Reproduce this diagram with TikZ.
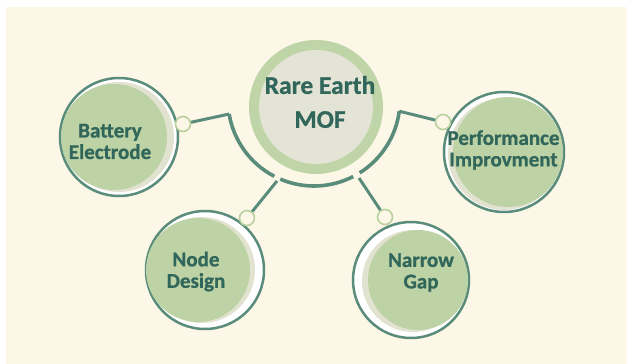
\documentclass[tikz,border=0pt]{standalone}
\usepackage{fontspec}
\setmainfont{Carlito}[BoldFeatures={FakeBold=0.8}]
\definecolor{bgcol}{HTML}{FDF7E7}
\definecolor{teal}{HTML}{5A8C7B}
\definecolor{txt}{HTML}{31665A}
\definecolor{leaf}{HTML}{BDD2A5}
\definecolor{mist}{HTML}{E2E2D0}
\definecolor{ringg}{HTML}{BFD5A8}
\definecolor{core}{HTML}{E4E4D6}
\definecolor{knob}{HTML}{B7D09E}
\tikzset{
  outerring/.style={circle, draw=teal, line width=2.5pt, fill=white, inner sep=0pt},
  knobc/.style={circle, draw=knob, line width=1.6pt, fill=bgcol, minimum size=15pt, inner sep=0pt},
  link/.style={draw=teal, line width=3pt},
  arcline/.style={draw=teal, line width=3.6pt},
  smalltxt/.style={text=txt, font=\bfseries\fontsize{21}{21.5}\selectfont, align=center, inner sep=0pt},
  bigtxt/.style={text=txt, font=\bfseries\fontsize{25.5}{34}\selectfont, align=center, inner sep=0pt}
}
\begin{document}
\begin{tikzpicture}[x=1pt,y=-1pt]
\useasboundingbox (0,0) rectangle (627,364);
\fill[white] (0,0) rectangle (627,364);
\fill[bgcol] (6,7) rectangle (627,364);

% centre
\node[circle, fill=ringg, minimum size=134pt, inner sep=0pt] (cring) at (316,107) {};
\fill[core] (cring.center) circle[radius=57];
\node[bigtxt] (ctext) at (320,102) {Rare Earth\\MOF};

% segmented arc around centre
\coordinate (arcC) at (314,100);
\draw[arcline] (arcC) ++(170.6:86) coordinate (aL) arc[start angle=170.6, end angle=117.5, radius=86];
\draw[arcline] (arcC) ++(113.1:86) arc[start angle=113.1, end angle=62.9, radius=86];
\draw[arcline] (arcC) ++(57.9:86) arc[start angle=57.9, end angle=7.5, radius=86] coordinate (aR);
\coordinate (gL) at (277,181);
\coordinate (gR) at (359,178);

% Battery Electrode
\node[outerring, minimum size=118pt] (battring) at (119,137) {};
\fill[mist] (119,137) circle[radius=55];
\fill[leaf] (114,137) circle[radius=53];
\node[smalltxt] (batttext) at (110,141.5) {Battery\\Electrode};

% Performance Improvment
\node[outerring, minimum size=120pt] (perfring) at (504,152) {};
\fill[mist] (504,154) circle[radius=56];
\fill[leaf] (508,152) circle[radius=55];
\node[smalltxt] (perftext) at (503.5,150) {Performance\\Improvment};

% Node Design
\node[outerring, minimum size=118pt] (nodering) at (205,270) {};
\fill[mist] (202,270) circle[radius=53];
\fill[leaf] (198,270) circle[radius=52];
\node[smalltxt] (nodetext) at (196,271.5) {Node\\Design};

% Narrow Gap
\node[outerring, minimum size=116pt] (narring) at (411,280) {};
\fill[mist] (413,281) circle[radius=51];
\fill[leaf] (418,280) circle[radius=50];
\node[smalltxt] (nartext) at (421,272.5) {Narrow\\Gap};

% knobs
\node[knobc] (kB) at (183,124) {};
\node[knobc] (kP) at (443,122) {};
\node[knobc] (kN) at (247,218) {};
\node[knobc] (kG) at (385,217) {};

% connectors
\draw[link] (aL) -- (kB);
\draw[link] (aR) -- (kP);
\draw[link] (gL) -- (kN);
\draw[link] (gR) -- (kG);
\end{tikzpicture}
\end{document}
